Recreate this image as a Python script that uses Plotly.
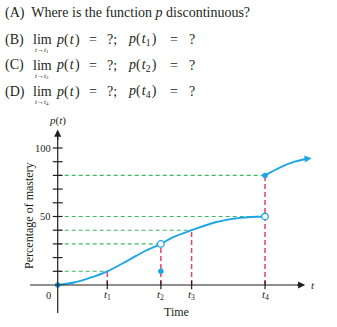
import plotly.graph_objects as go

# ---- data ---------------------------------------------------------------
tick_names = ["t1", "t2", "t3", "t4"]
tick_t = [1.0, 2.08, 2.7, 4.18]

# left-hand branch of p(t), from 0 up to t4 (open circle at t4)
lower_t = [0, 0.35, 0.62, 1.0, 1.42, 1.76, 2.08, 2.33, 2.7, 3.2, 3.68, 4.18]
lower_p = [0, 2, 4.9, 10, 18, 24.8, 30, 35, 40, 46, 49, 50]

# right-hand branch, starting at the filled point (t4, 80)
upper_t = [4.18, 4.52, 4.78, 5.12]
upper_p = [80, 86.4, 90, 92.5]

# open circles (limits that are not attained)
open_t = [2.08, 4.18]
open_p = [30, 50]
# filled points, including the isolated value p(t2) = 10
filled_t = [0, 2.08, 4.18]
filled_p = [0, 10, 80]

# guide lines: green horizontals (level, x end), red verticals (t, top)
h_levels = [10, 30, 40, 50, 80]
h_ends = [1.0, 2.08, 2.7, 4.18, 4.18]
v_pos = [1.0, 2.08, 2.7, 4.18]
v_tops = [10, 30, 40, 80]

y_ticks = [10, 20, 30, 40, 50, 60, 70, 80, 90, 100]
y_labels = {100: "100", 50: "50"}

# ---- styling --------------------------------------------------------------
W, H = 337, 327
INK = "#231f20"
BLUE = "#1ca6e6"
GREEN = "#3fb766"
RED = "#ea3f6c"
SERIF = "Liberation Serif, Times New Roman, serif"

# data ranges chosen so the plot area fills the whole page
X_RANGE = [-1.1633, 5.6310]
Y_RANGE = [-30.657, 208.03]


def px(x):
    return x / W


def py(y):
    return 1 - y / H


fig = go.Figure()

# dashed guides
for lvl, xe in zip(h_levels, h_ends):
    fig.add_shape(type="line", x0=0, x1=xe, y0=lvl, y1=lvl, xref="x", yref="y",
                  line=dict(color=GREEN, width=1.1, dash="4px,3px"), layer="below")
for xv, top in zip(v_pos, v_tops):
    fig.add_shape(type="line", x0=xv, x1=xv, y0=0, y1=top, xref="x", yref="y",
                  line=dict(color=RED, width=1.5, dash="5px,3px"), layer="below")

# axes
fig.add_shape(type="line", x0=-0.56, x1=4.95, y0=0, y1=0, xref="x", yref="y",
              line=dict(color=INK, width=1.2))
fig.add_shape(type="line", x0=0, x1=0, y0=-20.4, y1=111, xref="x", yref="y",
              line=dict(color=INK, width=1.2))

# tick marks
fig.add_trace(go.Scatter(x=tick_t, y=[0] * len(tick_t), mode="markers",
                         marker=dict(symbol="line-ns", size=6,
                                     line=dict(color=INK, width=1.2)),
                         hoverinfo="skip", showlegend=False))
fig.add_trace(go.Scatter(x=[0] * len(y_ticks), y=y_ticks, mode="markers",
                         marker=dict(symbol="line-ew", size=7,
                                     line=dict(color=INK, width=1.2)),
                         hoverinfo="skip", showlegend=False))

# curve branches
fig.add_trace(go.Scatter(x=lower_t, y=lower_p, mode="lines",
                         line=dict(color=BLUE, width=1.9, shape="spline"),
                         hoverinfo="skip", showlegend=False))
fig.add_trace(go.Scatter(x=upper_t[:-1] + [5.06], y=upper_p[:-1] + [92.3],
                         mode="lines",
                         line=dict(color=BLUE, width=1.9, shape="spline"),
                         hoverinfo="skip", showlegend=False))

# points
fig.add_trace(go.Scatter(x=filled_t, y=filled_p, mode="markers",
                         marker=dict(color=BLUE, size=5.5, line=dict(width=0)),
                         hoverinfo="skip", showlegend=False))
fig.add_trace(go.Scatter(x=open_t, y=open_p, mode="markers",
                         marker=dict(color="white", size=6.5,
                                     line=dict(color=BLUE, width=1.3)),
                         hoverinfo="skip", showlegend=False))

# arrowheads (axes and curve end)
arrows = [
    dict(x=4.99, y=0, ax=4.80, ay=0, color=INK),
    dict(x=0, y=113.5, ax=0, ay=105, color=INK),
    dict(x=upper_t[-1], y=upper_p[-1], ax=4.98, ay=92.0, color=BLUE),
]
for a in arrows:
    fig.add_annotation(x=a["x"], y=a["y"], ax=a["ax"], ay=a["ay"],
                       xref="x", yref="y", axref="x", ayref="y", text="",
                       showarrow=True, arrowhead=2, arrowsize=1.1,
                       arrowwidth=1.3, arrowcolor=a["color"], standoff=0)

# tick labels
for name, tv in zip(tick_names, tick_t):
    fig.add_annotation(x=tv, y=-7.6, xref="x", yref="y", showarrow=False,
                       text="<i>t</i><sub>%s</sub>" % name[1:],
                       font=dict(family=SERIF, size=11, color=INK),
                       xanchor="center", yanchor="middle")
for val, lab in y_labels.items():
    fig.add_annotation(x=-0.09, y=val, xref="x", yref="y", showarrow=False,
                       text=lab, font=dict(family=SERIF, size=10.5, color=INK),
                       xanchor="right", yanchor="middle")
fig.add_annotation(x=-0.09, y=-7.3, xref="x", yref="y", showarrow=False,
                   text="0", font=dict(family=SERIF, size=10.5, color=INK),
                   xanchor="right", yanchor="middle")

# axis titles
fig.add_annotation(x=px(57), y=py(121), xref="paper", yref="paper",
                   showarrow=False, text="<i>p</i>(<i>t</i>)",
                   font=dict(family=SERIF, size=11, color=INK),
                   xanchor="center", yanchor="middle")
fig.add_annotation(x=px(313), y=py(285), xref="paper", yref="paper",
                   showarrow=False, text="<i>t</i>",
                   font=dict(family=SERIF, size=11, color=INK),
                   xanchor="center", yanchor="middle")
fig.add_annotation(x=px(176), y=py(312), xref="paper", yref="paper",
                   showarrow=False, text="Time",
                   font=dict(family=SERIF, size=12, color=INK),
                   xanchor="center", yanchor="middle")
fig.add_annotation(x=px(29), y=py(216), xref="paper", yref="paper",
                   showarrow=False, text="Percentage of mastery", textangle=-90,
                   font=dict(family=SERIF, size=12, color=INK),
                   xanchor="center", yanchor="middle")

# question text above the chart
def txt(x, y, s, size=14, anchor="left"):
    fig.add_annotation(x=px(x), y=py(y), xref="paper", yref="paper",
                       showarrow=False, text=s, borderpad=0,
                       font=dict(family=SERIF, size=size, color=INK),
                       xanchor=anchor, yanchor="middle")


txt(4, 13.5, "(A)  Where is the function <i>p</i> discontinuous?")

HAIR = "\u200a"
questions = [("(B)", "1", 39.5), ("(C)", "2", 65.5), ("(D)", "4", 91.5)]
for lab, k, yc in questions:
    txt(4, yc, lab)
    txt(32, yc, "lim")
    txt(42, yc + 10.5, "<i>t</i>\u2192<i>t</i><sub>%s</sub>" % k, size=7,
        anchor="center")
    txt(55, yc, "<i>p</i>(%s<i>t</i>%s)" % (HAIR, HAIR))
    txt(88, yc, "=")
    txt(106, yc, "?;")
    txt(127, yc, "<i>p</i>(%s<i>t</i><sub>%s</sub>%s)" % (HAIR, k, HAIR))
    txt(169, yc, "=")
    txt(188, yc, "?")

fig.update_layout(
    width=W, height=H,
    margin=dict(l=0, r=0, t=0, b=0),
    paper_bgcolor="white", plot_bgcolor="white",
    xaxis=dict(range=X_RANGE, visible=False, fixedrange=True),
    yaxis=dict(range=Y_RANGE, visible=False, fixedrange=True),
    showlegend=False,
)

fig.write_html("out.html")
